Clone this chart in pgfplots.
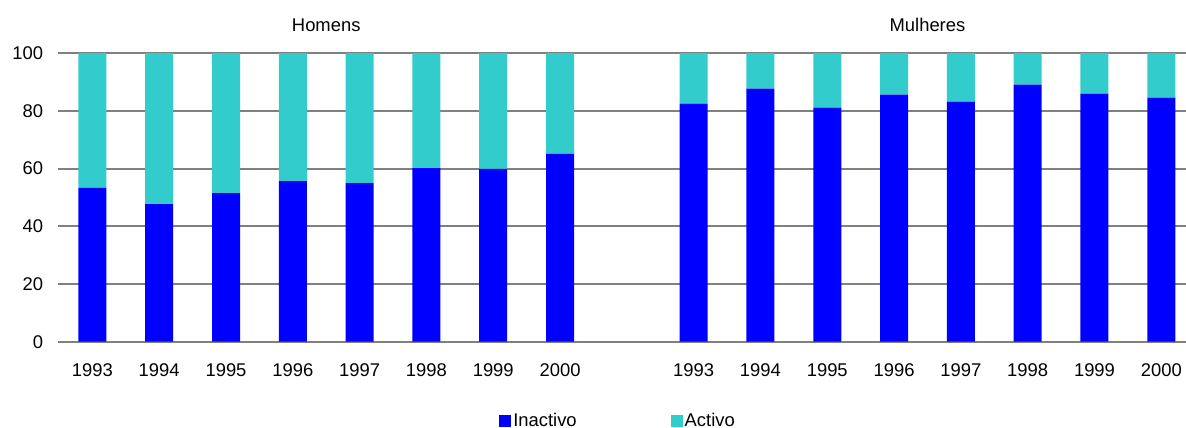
\documentclass[border=0pt]{standalone}
\usepackage{pgfplots}
\pgfplotsset{compat=1.18}
\usepackage{fontspec}
\setmainfont{Liberation Sans}
\definecolor{inact}{RGB}{0,0,255}
\definecolor{act}{RGB}{51,204,204}
\definecolor{gridc}{RGB}{128,128,128}
\begin{document}
\fontsize{9.2bp}{11bp}\selectfont
\begin{tikzpicture}
\begin{axis}[
 scale only axis, width=564bp, height=144.25bp,
 xmin=-0.515, xmax=16.37, ymin=0, ymax=100,
 ybar stacked, bar width=14bp,
 axis line style={draw=none},
 major tick length=0pt,
 ytick={0,20,40,60,80,100},
 xtick={0,1,2,3,4,5,6,7,9,10,11,12,13,14,15,16},
 xticklabels={1993,1994,1995,1996,1997,1998,1999,2000,1993,1994,1995,1996,1997,1998,1999,2000},
 ymajorgrids, grid style={gridc, line width=1bp},
 /pgf/number format/assume math mode=true,
 yticklabel style={inner sep=0pt, xshift=-7.3bp, anchor=east},
 xticklabel style={inner sep=0pt, yshift=-11bp, anchor=north},
 tick label style={font=\fontsize{9.2bp}{11bp}\selectfont},
 clip=false,
 legend columns=2,
 legend image code/.code={\fill[#1] (0bp,-3bp) rectangle (6bp,3bp);},
 legend style={draw=none, at={(0.4965,0)}, anchor=center, yshift=-39.6bp,
   font=\fontsize{9.2bp}{11bp}\selectfont, inner sep=0pt,
   nodes={inner sep=1bp, anchor=west},
   /tikz/every even column/.append style={column sep=46bp}},
]
\addplot[fill=inact, draw=none] coordinates {
 (0,53.3) (1,47.7) (2,51.5) (3,55.7) (4,55.0) (5,60.2) (6,59.9) (7,65.1)
 (9,82.5) (10,87.7) (11,81.1) (12,85.6) (13,83.2) (14,89.1) (15,86.0) (16,84.6)};
\addplot[fill=act, draw=none] coordinates {
 (0,46.7) (1,52.3) (2,48.5) (3,44.3) (4,45.0) (5,39.8) (6,40.1) (7,34.9)
 (9,17.5) (10,12.3) (11,18.9) (12,14.4) (13,16.8) (14,10.9) (15,14.0) (16,15.4)};
\legend{Inactivo, Activo}
\node[inner sep=0pt, anchor=center, yshift=14.1bp] at (axis cs:3.5,100) {Homens};
\node[inner sep=0pt, anchor=center, yshift=14.1bp] at (axis cs:12.5,100) {Mulheres};
\coordinate (sw) at (rel axis cs:0,0);
\coordinate (ne) at (rel axis cs:1,1);
\end{axis}
\pgfresetboundingbox
\path ([shift={(-29bp,-43.15bp)}]sw) rectangle ([shift={(0bp,26.6bp)}]ne);
\end{tikzpicture}
\end{document}
